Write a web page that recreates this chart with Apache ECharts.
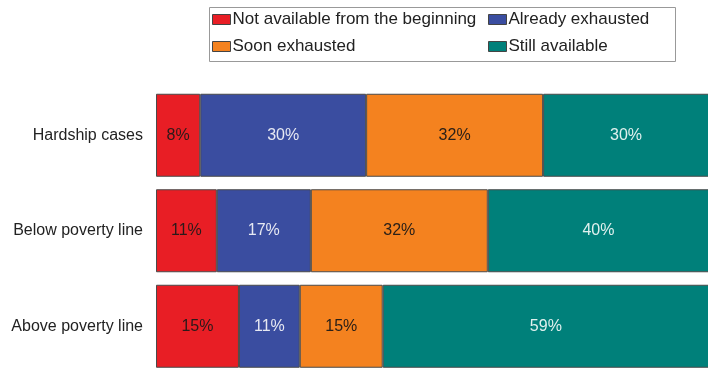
<!DOCTYPE html>
<html>
<head>
<meta charset="utf-8">
<script src="https://cdn.jsdelivr.net/npm/echarts@6/dist/echarts.min.js"></script>
<style>
html,body{margin:0;padding:0;background:#fff;}
#chart{width:708px;height:369px;}
</style>
</head>
<body>
<div id="chart"></div>
<script>
var categories = ['Hardship cases', 'Below poverty line', 'Above poverty line'];
var seriesNames = ['Not available from the beginning', 'Already exhausted', 'Soon exhausted', 'Still available'];
var notAvailable = [8, 11, 15];
var alreadyExhausted = [30, 17, 11];
var soonExhausted = [32, 32, 15];
var stillAvailable = [30, 40, 59];

var colors = ['#E81E25', '#3A4DA0', '#F4821F', '#00807A'];
var labelColors = ['#2a1a1a', '#e6e8f2', '#2a2018', '#e0f0ee'];
var values = [notAvailable, alreadyExhausted, soonExhausted, stillAvailable];
var FONT = '"Liberation Sans", Arial, sans-serif';

var chart = echarts.init(document.getElementById('chart'), null, {renderer: 'canvas'});

var series = seriesNames.map(function (name, i) {
  return {
    name: name,
    type: 'bar',
    stack: 'total',
    barWidth: 83,
    data: values[i],
    itemStyle: {color: colors[i], borderColor: '#4a4a4a', borderWidth: 1},
    label: {
      show: true,
      position: 'inside',
      formatter: '{c}%',
      color: labelColors[i],
      fontFamily: FONT,
      fontSize: 16
    },
    emphasis: {disabled: true}
  };
});

var legendCommon = {
  orient: 'vertical',
  top: 11,
  padding: 0,
  itemWidth: 18,
  itemHeight: 10,
  itemGap: 10,
  icon: 'rect',
  itemStyle: {borderColor: '#444', borderWidth: 1},
  textStyle: {fontFamily: FONT, fontSize: 17, color: '#222', lineHeight: 17, padding: [0, 0, 0, -3]},
  selectedMode: false
};

chart.setOption({
  animation: false,
  backgroundColor: '#fff',
  color: colors,
  graphic: [{
    type: 'rect',
    left: 207,
    top: 5,
    shape: {width: 466, height: 54},
    style: {fill: 'none', stroke: '#999', lineWidth: 1}
  }],
  legend: [
    Object.assign({left: 212, data: [seriesNames[0], seriesNames[2]]}, legendCommon),
    Object.assign({left: 488, data: [seriesNames[1], seriesNames[3]]}, legendCommon)
  ],
  grid: {left: 156, top: 87.5, width: 553, height: 286.5, containLabel: false, outerBoundsMode: 'none'},
  xAxis: {type: 'value', min: 0, max: 100, show: false},
  yAxis: {
    type: 'category',
    data: categories,
    inverse: true,
    axisLine: {show: false},
    axisTick: {show: false},
    axisLabel: {fontFamily: FONT, fontSize: 16, color: '#222', margin: 13}
  },
  series: series
});
</script>
</body>
</html>
